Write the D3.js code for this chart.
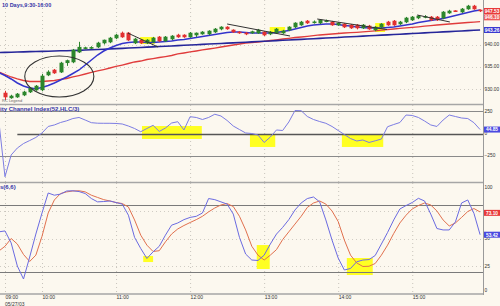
<!DOCTYPE html>
<html><head><meta charset="utf-8">
<script src="https://cdn.jsdelivr.net/npm/d3@7"></script>
<style>html,body{margin:0;padding:0;background:#fcf8ef;overflow:hidden}svg{display:block;font-family:"Liberation Sans",Arial,sans-serif}</style>
</head><body><svg id="c" width="500" height="306"></svg>
<script>
// ---------- DATA (5-minute bars, 05/27/03, session 9:30-16:00) ----------
// today's candles, bar i starts at 9:30 + 5*i minutes
const open  = [929.10,928.00,928.20,928.65,929.33,929.78,929.80,933.15,934.27,933.80,935.90,936.07,938.30,939.10,939.20,939.44,940.34,940.56,941.46,942.58,942.58,940.34,941.00,940.34,940.56,941.69,940.79,941.24,942.13,942.13,941.69,942.13,942.36,942.36,942.81,943.48,943.93,943.26,942.81,942.58,942.60,942.58,942.81,942.36,942.58,942.58,943.26,943.93,944.38,945.28,944.90,944.83,945.20,945.06,944.38,944.61,944.38,944.38,943.71,944.16,943.26,943.93,945.06,945.28,944.61,945.06,945.51,945.96,946.10,946.18,946.18,945.96,947.08,947.60,947.30,947.98,948.65,947.75];
const high  = [929.60,928.70,929.10,929.60,930.40,930.90,933.40,934.20,934.50,936.10,936.60,939.00,940.60,939.50,939.60,940.60,941.10,941.70,942.40,942.90,942.80,941.50,941.20,941.20,941.70,941.90,941.90,942.10,942.40,942.30,942.80,942.70,943.00,943.20,943.70,944.10,944.10,943.40,943.00,942.80,943.10,943.50,943.00,943.00,943.70,943.30,944.10,945.00,945.30,945.50,945.40,945.70,945.60,945.30,945.00,944.80,944.60,944.60,944.60,944.40,944.10,944.80,945.30,945.50,945.30,946.20,946.40,946.60,946.60,946.40,946.40,947.50,947.80,947.70,948.20,948.90,948.90,947.90];
const low   = [927.53,927.80,928.00,928.40,929.10,929.60,929.50,932.90,933.40,933.60,935.20,935.80,938.10,938.90,939.00,939.20,940.00,940.30,941.20,941.50,940.80,940.10,940.10,940.10,940.40,940.60,940.60,941.00,941.50,941.50,941.50,941.70,942.20,942.10,942.60,943.20,943.30,942.60,942.40,942.10,942.40,942.40,941.90,942.10,942.40,942.40,943.00,943.70,944.20,944.60,944.70,944.60,945.00,944.20,944.20,943.70,943.50,943.40,943.50,943.30,943.00,943.70,944.20,944.20,944.40,944.80,945.30,945.70,945.90,945.30,945.30,945.70,946.90,947.30,947.10,947.80,947.80,947.30];
const close = [928.20,928.43,928.88,929.33,930.22,930.67,932.92,933.82,933.60,935.84,936.40,938.76,939.40,939.30,939.35,940.34,941.00,941.46,942.13,941.69,941.00,941.24,940.34,941.00,941.46,940.79,941.69,941.91,941.69,941.69,942.58,942.58,942.81,943.03,943.48,943.93,943.50,942.81,942.58,942.36,942.90,943.26,942.13,942.81,943.48,943.03,943.93,944.83,945.06,944.83,945.10,945.51,945.35,944.38,944.83,943.93,943.71,943.71,944.38,943.48,943.93,944.61,944.38,944.38,945.06,945.96,946.18,946.40,946.30,945.51,945.51,947.30,947.53,947.45,947.98,948.65,947.98,947.53];
// indicator series: first value = prior session's last bar, then today's 78 bars
const maFast  = [933.71,933.03,932.25,931.35,930.68,930.23,930.07,930.34,930.79,931.35,932.02,932.70,933.48,934.27,935.39,936.52,937.64,938.54,939.21,939.78,940.23,940.45,940.56,940.56,940.45,940.45,940.56,940.67,940.79,941.01,941.12,941.35,941.57,941.80,942.02,942.25,942.47,942.70,942.81,942.81,942.70,942.58,942.58,942.58,942.58,942.70,942.92,943.15,943.48,943.82,944.16,944.38,944.49,944.61,944.61,944.49,944.27,944.16,943.93,943.82,943.71,943.71,943.71,943.82,943.93,944.16,944.38,944.61,944.94,945.17,945.39,945.62,945.84,946.18,946.52,946.85,947.19,947.53,947.75];
const maMid   = [933.82,933.26,932.70,932.25,931.91,931.69,931.69,931.69,931.80,931.91,932.14,932.36,932.70,933.03,933.37,933.71,934.05,934.38,934.72,935.06,935.39,935.73,936.07,936.29,936.63,936.85,937.08,937.30,937.53,937.87,938.09,938.32,938.54,938.77,938.99,939.21,939.44,939.66,939.89,940.11,940.34,940.45,940.56,940.72,940.90,941.06,941.24,941.39,941.57,941.69,941.84,941.98,942.14,942.25,942.36,942.47,942.58,942.65,942.74,942.85,942.97,943.08,943.21,943.35,943.48,943.62,943.75,943.87,943.98,944.11,944.25,944.38,944.49,944.61,944.72,944.83,944.94,945.03,945.12];
const maSlow  = [938.20,938.23,938.27,938.31,938.35,938.39,938.43,938.46,938.50,938.54,938.58,938.61,938.65,938.69,938.75,938.82,938.88,938.95,939.01,939.08,939.14,939.21,939.28,939.34,939.41,939.47,939.54,939.61,939.68,939.75,939.82,939.89,939.96,940.03,940.10,940.17,940.24,940.30,940.37,940.44,940.51,940.58,940.66,940.73,940.80,940.87,940.94,941.02,941.09,941.16,941.23,941.30,941.38,941.45,941.52,941.59,941.67,941.74,941.81,941.88,941.96,942.03,942.10,942.17,942.25,942.32,942.39,942.46,942.53,942.61,942.68,942.75,942.83,942.90,942.97,943.04,943.11,943.19,943.26];
const cci     = [140,-491,-244,-165,-114,-80,-45,6,80,97,125,144,170,182,153,123,117,116,116,114,108,85,57,20,57,93,23,62,119,134,40,191,182,159,182,219,199,148,85,45,6,0,-17,-102,-40,40,34,131,261,259,193,159,136,116,80,34,-11,-57,-85,-74,-102,-83,-63,77,102,125,210,205,182,142,97,80,153,210,193,176,170,123,44.85];
const stochK  = [56,56.8,46,25.2,13.5,33.3,54,73,91,89,90,92.8,93,92.3,90.5,86,83,83.3,83.8,82.4,81,71,51,41,32,38,43,53,62,64,67,69,70,73,86,85,83,81,72,51,36,30.6,30.2,35,45,54,60,67,75.7,82,86,87.4,83,66.7,48.6,32.4,21.6,23,29,30.6,31,34.7,45,55.4,66.7,76.6,79.7,82.4,86.2,83.8,72,59,57.7,57.7,65,82,84.7,72.7,53.42];
const stochD  = [38.7,43,50,45,35.6,29.3,35,52,73,84.7,90.5,92,92.8,93,92,89,87,85,83.8,82.4,81.5,78.4,66.7,53,44,38.3,39,47,54,58.6,61.7,64.4,67,70,74,77.5,80.2,81.5,78.8,70,57.7,43,35,30.6,35,40,49,56,63,70,78,82,83.8,81,74.8,65.3,48.6,35,28,24.8,25,27.5,35,44,54.5,64,71,76.6,79.7,82,80.2,74.8,66.7,61.3,64,69,74.3,77,73.9];
// axis ticks
const timeTickMinutes = [0,30,90,150,210,270,330];
const timeTickLabels  = ["09:00","10:00","11:00","12:00","13:00","14:00","15:00"];
const dateLabel = "05/27/03";
const priceTicks = [930,935,940];
const cciTicks = [250,0,-250];
const cciLevels = [250,-250];
const stochTicks = [100,50,25,0];
const stochGrid = [75,50,25];
const stochLevels = [80,20];
// last-value boxes
const priceBoxes = [[947.53,"#e83a3a"],[946.10,"#ee5a5a"],[943.26,"#3a3ad0"]];
const cciBoxes = [[44.85,"#4a4ae0"]];
const stochBoxes = [[73.10,"#e83a3a"],[53.42,"#4a4ae0"]];
// annotations (bar index, value)
const trendLines = [[[19.9,942.58],[24.8,939.44]],[[36.0,944.61],[46.2,941.91]],[[50.6,945.73],[61.9,943.37]],[[66.8,946.63],[72.1,945.06]]];
const ellipseBars = [3.2,14.4], ellipsePrices = [928.2,937.4];
const priceHighlights = [[21.9,24.3,941.69,940.11],[42.9,45.4,943.93,942.58],[60.0,61.6,944.83,942.81]];
const cciHighlights = [[22.2,31.9,85,-62],[39.7,43.8,-17,-153],[54.6,61.3,-17,-153]];
const stochHighlights = [[22.4,24.0,34.2,28.8],[40.8,42.9,44.1,22.5],[55.4,59.6,32.4,17.1]];

// ---------- DRAWING ----------
const W=500,H=306,R=483;
const svg=d3.select("#c");
svg.append("rect").attr("width",W).attr("height",H).attr("fill","#fcf8ef");
const x=d3.scaleLinear().domain([-4.05,387.35]).range([0,R]);
const xb=i=>x(5*i);           // today's bar i
const xk=k=>x(5*(k-1));       // indicator arrays (prior bar first)
const yP=d3.scaleLinear().domain([926.63,950]).range([104,0]);
const yC=d3.scaleLinear().domain([-551,329.5]).range([182,104.5]);
const yS=d3.scaleLinear().domain([0,100]).range([294,183]);

const defs=svg.append("defs");
function clip(id,y0,y1){defs.append("clipPath").attr("id",id).append("rect").attr("x",0).attr("y",y0).attr("width",R).attr("height",y1-y0);return svg.append("g").attr("clip-path",`url(#${id})`);}
const gP=clip("cp",0,104), gC=clip("cc",104.5,182), gS=clip("cs",182.5,294);

// vertical dotted grid
[[gP,0,104],[gC,105,182],[gS,183,294]].forEach(([g,a,b])=>{
  g.selectAll(null).data(timeTickMinutes).join("line").attr("x1",d=>x(d)+.5).attr("x2",d=>x(d)+.5).attr("y1",a).attr("y2",b)
   .attr("stroke","#c8c4bc").attr("stroke-dasharray","1,3");
});
gP.selectAll(null).data(priceTicks).join("line").attr("x1",0).attr("x2",R).attr("y1",d=>Math.round(yP(d))+.5).attr("y2",d=>Math.round(yP(d))+.5).attr("stroke","#d0ccc4").attr("stroke-dasharray","1,3");
gS.selectAll(null).data(stochGrid).join("line").attr("x1",0).attr("x2",R).attr("y1",d=>Math.round(yS(d))+.5).attr("y2",d=>Math.round(yS(d))+.5).attr("stroke","#d0ccc4").attr("stroke-dasharray","1,3");

// price panel highlights
gP.selectAll(null).data(priceHighlights).join("rect").attr("x",d=>xb(d[0])).attr("width",d=>xb(d[1])-xb(d[0])).attr("y",d=>yP(d[2])).attr("height",d=>yP(d[3])-yP(d[2])).attr("fill","#ffff22");
// moving averages
const lineK=(ys)=>d3.line().x((d,k)=>xk(k)).y(d=>ys(d));
gP.append("path").datum(maMid).attr("d",lineK(yP)).attr("fill","none").attr("stroke","#e03c3c").attr("stroke-width",1.3);
gP.append("path").datum(maSlow).attr("d",lineK(yP)).attr("fill","none").attr("stroke","#26269a").attr("stroke-width",1.6);
gP.append("path").datum(maFast).attr("d",lineK(yP)).attr("fill","none").attr("stroke","#3434cc").attr("stroke-width",1.5);
// candles
const bars=d3.range(open.length);
const cg=gP.selectAll(null).data(bars).join("g");
const col=i=>close[i]>=open[i]?"#2c862c":"#e23030";
cg.append("line").attr("x1",i=>Math.round(xb(i))+.5).attr("x2",i=>Math.round(xb(i))+.5).attr("y1",i=>yP(high[i])).attr("y2",i=>yP(low[i])).attr("stroke",col);
cg.append("rect").attr("x",i=>Math.round(xb(i))-1.5).attr("width",4)
  .attr("y",i=>yP(Math.max(open[i],close[i]))-0.3).attr("height",i=>Math.max(1.6,Math.abs(yP(open[i])-yP(close[i]))+0.6)).attr("fill",col);
// trend lines & ellipse
gP.selectAll(null).data(trendLines).join("line").attr("x1",d=>xb(d[0][0])).attr("y1",d=>yP(d[0][1])).attr("x2",d=>xb(d[1][0])).attr("y2",d=>yP(d[1][1])).attr("stroke","#333").attr("stroke-width",1);
gP.append("ellipse").attr("cx",(xb(ellipseBars[0])+xb(ellipseBars[1]))/2).attr("cy",(yP(ellipsePrices[0])+yP(ellipsePrices[1]))/2)
  .attr("rx",(xb(ellipseBars[1])-xb(ellipseBars[0]))/2).attr("ry",(yP(ellipsePrices[0])-yP(ellipsePrices[1]))/2)
  .attr("fill","none").attr("stroke","#333").attr("stroke-width",1.1);

// CCI panel
gC.selectAll(null).data(cciHighlights).join("rect").attr("x",d=>xb(d[0])).attr("width",d=>xb(d[1])-xb(d[0])).attr("y",d=>yC(d[2])).attr("height",d=>yC(d[3])-yC(d[2])).attr("fill","#ffff22");
gC.selectAll(null).data(cciLevels).join("line").attr("x1",0).attr("x2",R).attr("y1",d=>Math.round(yC(d))+.5).attr("y2",d=>Math.round(yC(d))+.5).attr("stroke","#8a8a8a");
gC.append("line").attr("x1",xb(2)).attr("x2",R).attr("y1",Math.round(yC(0))+.5).attr("y2",Math.round(yC(0))+.5).attr("stroke","#555").attr("stroke-width",1.4);
gC.append("path").datum(cci).attr("d",lineK(yC)).attr("fill","none").attr("stroke","#7c7ce2").attr("stroke-width",1);

// Stochastic panel
gS.selectAll(null).data(stochHighlights).join("rect").attr("x",d=>xb(d[0])).attr("width",d=>xb(d[1])-xb(d[0])).attr("y",d=>yS(d[2])).attr("height",d=>yS(d[3])-yS(d[2])).attr("fill","#ffff22");
gS.selectAll(null).data(stochLevels).join("line").attr("x1",0).attr("x2",R).attr("y1",d=>Math.round(yS(d))+.5).attr("y2",d=>Math.round(yS(d))+.5).attr("stroke","#7a7a7a");
gS.append("path").datum(stochD).attr("d",lineK(yS)).attr("fill","none").attr("stroke","#e0704e").attr("stroke-width",1);
gS.append("path").datum(stochK).attr("d",lineK(yS)).attr("fill","none").attr("stroke","#6a6ae0").attr("stroke-width",1);

// panel borders and right axis line
[104.5,182.5,294].forEach(v=>svg.append("line").attr("x1",0).attr("x2",R).attr("y1",v).attr("y2",v).attr("stroke","#a6a6a6").attr("stroke-width",1.5));
svg.append("line").attr("x1",R+.5).attr("x2",R+.5).attr("y1",0).attr("y2",295).attr("stroke","#9a9a9a");

// right axes
function rightAxis(scale,ticks,fmt,lo,hi){
  const g=svg.append("g").attr("transform",`translate(${R},0)`);
  const ax=d3.axisRight(scale).tickValues(ticks).tickSize(0).tickPadding(1.5).tickFormat(fmt);
  g.call(ax); g.select(".domain").remove();
  g.selectAll(".tick").attr("transform",d=>`translate(0,${Math.min(Math.max(scale(d),lo),hi)})`);
  g.selectAll("text").attr("font-size",4.8).attr("fill","#333").attr("font-family","Liberation Sans, Arial, sans-serif");
}
rightAxis(yP,priceTicks,d3.format(".2f"),4,100);
rightAxis(yC,cciTicks,d3.format("d"),108,178);
rightAxis(yS,stochTicks,d3.format("d"),187,290);
function boxes(list,scale){
  const g=svg.selectAll(null).data(list).join("g").attr("transform",d=>`translate(${R+1},${scale(d[0])})`);
  g.append("rect").attr("x",0).attr("y",-3).attr("width",16).attr("height",6).attr("fill",d=>d[1]);
  g.append("text").attr("x",8).attr("y",1.8).attr("text-anchor","middle").attr("font-size",4.8).attr("font-weight","bold").attr("fill","#fff").text(d=>d3.format(".2f")(d[0]));
}
boxes(priceBoxes,yP); boxes(cciBoxes,yC); boxes(stochBoxes,yS);

// bottom time axis
const gx=svg.append("g").attr("transform","translate(0,294)");
gx.call(d3.axisBottom(x).tickValues(timeTickMinutes).tickSize(0).tickPadding(0).tickFormat((d,i)=>timeTickLabels[i]));
gx.select(".domain").remove();
gx.selectAll("text").attr("text-anchor","start").attr("dy",0).attr("y",5.3).attr("font-size",5).attr("fill","#333").attr("font-family","Liberation Sans, Arial, sans-serif");
svg.append("text").attr("x",x(0)).attr("y",305.5).attr("font-size",5).attr("fill","#333").text(dateLabel);

// panel titles
const tcol="#3535a8";
svg.append("text").attr("x",2).attr("y",6.5).attr("font-size",5.5).attr("font-weight","bold").attr("fill",tcol).text("10 Days,9:30-16:00");
svg.append("text").attr("x",2).attr("y",102).attr("font-size",4).attr("fill","#666").text("RC Legend");
svg.append("text").attr("x",0).attr("y",111).attr("font-size",6).attr("font-weight","bold").attr("fill",tcol).text("ity Channel Index(52,HLC/3)");
svg.append("text").attr("x",0).attr("y",189).attr("font-size",6).attr("font-weight","bold").attr("fill",tcol).text("s(6,6)");
</script></body></html>
